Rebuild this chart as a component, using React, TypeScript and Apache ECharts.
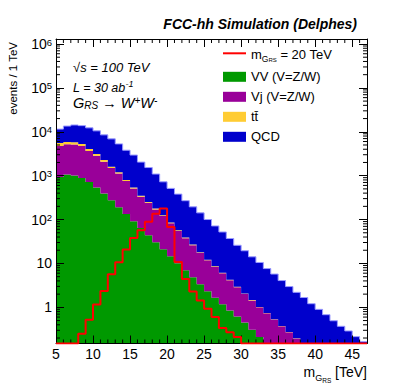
import React, { useEffect, useRef } from 'react';
import * as echarts from 'echarts';

// ---- data ----
const binLow = [5, 6, 7, 8, 9, 10, 11, 12, 13, 14, 15, 16, 17, 18, 19, 20, 21, 22, 23, 24, 25, 26, 27, 28, 29, 30, 31, 32, 33, 34, 35, 36, 37, 38, 39, 40, 41, 42, 43, 44, 45, 46];
const binWidth = 1;

const vv = [929, 1060, 1005, 881, 714, 535, 390, 277, 192, 133, 92, 64, 44, 30.5, 21.1, 14.6, 10.1, 7.0, 4.84, 3.35, 2.32, 1.65, 1.17, 0.85, 0.62, 0.45, 0.31, 0.21, 0.14, 0.10, 0.07, 0.05, 0.035, 0.025, 0.018, 0.012, 0.008, 0.006, 0.004, 0.003, 0.002, 0.0015];
const vj = [3810, 4130, 4150, 3860, 2940, 2320, 1690, 1210, 925, 620, 421, 266, 196, 140, 99, 68, 45, 30.6, 21.2, 14.1, 9.5, 6.7, 4.8, 3.3, 2.24, 1.58, 1.13, 0.79, 0.59, 0.43, 0.30, 0.22, 0.16, 0.118, 0.082, 0.058, 0.042, 0.029, 0.021, 0.017, 0.013, 0.0085];
const ttbar = [810, 660, 620, 530, 400, 260, 195, 107, 73, 41, 27, 17, 11, 7.5, 5, 3.3, 2.2, 1.4, 0.95, 0.62, 0.4, 0.27, 0.18, 0.12, 0.08, 0.05, 0.03, 0.02, 0.012, 0.008, 0.005, 0.003, 0.002, 0.001, 0, 0, 0, 0, 0, 0, 0, 0];
const qcd = [5950, 7650, 8530, 8530, 8250, 7390, 6230, 5300, 4110, 3010, 2410, 1690, 1280, 912, 600, 427, 323, 230, 168, 124, 88, 63, 46, 32.7, 23, 17.4, 12.7, 9.5, 6.9, 5.2, 3.7, 2.7, 2.0, 1.53, 1.11, 0.83, 0.63, 0.46, 0.345, 0.27, 0.2, 0.155];
const signal = [0, 0, 0, 0.25, 0.52, 1.16, 2.36, 5.7, 10.6, 20.8, 38, 57, 89, 135, 179, 68, 10.8, 4.4, 2.3, 1.44, 0.93, 0.60, 0.34, 0.27, 0.21, 0, 0, 0, 0, 0, 0, 0, 0, 0, 0, 0, 0, 0, 0, 0, 0, 0];

const xMin = 5;
const xMax = 47;
const xInterval = 5;
const yMin = 0.15;
const yMax = 1.3e6;

const SIG_NAME = 'signal';
const FONT = '"Liberation Sans", Arial, Helvetica, sans-serif';

const stackDefs = [
  { name: 'VV (V=Z/W)', values: vv, color: '#009900', outline: '' },
  { name: 'Vj (V=Z/W)', values: vj, color: '#990099', outline: '' },
  { name: 'tt\u0304', values: ttbar, color: '#ffcc33', outline: '' },
  { name: 'QCD', values: qcd, color: '#0000cc', outline: '#9a9aff' },
];

const clampV = (v: number) => Math.min(Math.max(v, yMin), yMax);

function makeBandRenderer(outline: string, n: number) {
  return (params: any, api: any) => {
    if (params.dataIndex !== 0) return null;
    const topPts: number[][] = [];
    const basePts: number[][] = [];
    for (let i = 0; i < n; i++) {
      const lo = api.value(0, i);
      const hi = api.value(1, i);
      const base = api.value(2, i);
      const top = api.value(3, i);
      topPts.push(api.coord([lo, clampV(top)]));
      topPts.push(api.coord([hi, clampV(top)]));
      basePts.push(api.coord([lo, clampV(base)]));
      basePts.push(api.coord([hi, clampV(base)]));
    }
    const color = api.visual('color');
    const children: any[] = [
      { type: 'polygon', shape: { points: [...topPts, ...basePts.reverse()] }, style: { fill: color } },
    ];
    if (outline) {
      children.push({ type: 'polyline', shape: { points: topPts }, style: { stroke: outline, lineWidth: 1, fill: null } });
    }
    return { type: 'group', children };
  };
}

function buildOption() {
  let cum = binLow.map(() => 0);
  const stackSeries = stackDefs.map((s) => {
    const data = binLow.map((lo, i) => {
      const base = cum[i];
      const top = base + s.values[i];
      return [lo, lo + binWidth, base, top];
    });
    cum = cum.map((c, i) => c + s.values[i]);
    return {
      type: 'custom',
      name: s.name,
      renderItem: makeBandRenderer(s.outline, data.length),
      data,
      encode: { x: [0, 1], y: [3] },
      itemStyle: { color: s.color },
      z: 2,
      silent: true,
    };
  });

  const sigLine = binLow.map((lo, i) => [lo, clampV(signal[i])]);
  sigLine.push([xMax, clampV(signal[signal.length - 1])]);

  const yMinorTicks: number[][] = [];
  for (let e = -1; e <= 6; e++) {
    for (let m = 2; m <= 9; m++) {
      const v = m * Math.pow(10, e);
      if (v > yMin && v < yMax) yMinorTicks.push([xMin, v]);
    }
  }
  const xMinorTicks = binLow.filter((v) => v > xMin && v % xInterval !== 0).map((v) => [v, yMin]);

  const tickStyle = { stroke: '#000', lineWidth: 1 };
  const minorLen = 4;

  const yTickSeries = {
    type: 'custom',
    name: 'yMinor',
    silent: true,
    z: 11,
    data: yMinorTicks,
    encode: { x: 0, y: 1 },
    renderItem: (params: any, api: any) => {
      const p = api.coord([api.value(0), api.value(1)]);
      const cs = params.coordSys;
      return {
        type: 'group',
        children: [
          { type: 'line', shape: { x1: cs.x, y1: p[1], x2: cs.x + minorLen, y2: p[1] }, style: tickStyle },
          { type: 'line', shape: { x1: cs.x + cs.width, y1: p[1], x2: cs.x + cs.width - minorLen, y2: p[1] }, style: tickStyle },
        ],
      };
    },
  };
  const xTickSeries = {
    type: 'custom',
    name: 'xMinor',
    silent: true,
    z: 11,
    data: xMinorTicks,
    encode: { x: 0, y: 1 },
    renderItem: (params: any, api: any) => {
      const p = api.coord([api.value(0), api.value(1)]);
      const cs = params.coordSys;
      return {
        type: 'group',
        children: [
          { type: 'line', shape: { x1: p[0], y1: cs.y + cs.height, x2: p[0], y2: cs.y + cs.height - minorLen }, style: tickStyle },
          { type: 'line', shape: { x1: p[0], y1: cs.y, x2: p[0], y2: cs.y + minorLen }, style: tickStyle },
        ],
      };
    },
  };

  const axisLine = { show: true, lineStyle: { color: '#000', width: 1 } };
  const majorTick = { show: true, inside: true, length: 8, lineStyle: { color: '#000', width: 1 } };

  const yLabelFormatter = (v: number) => {
    const e = Math.log10(v);
    const r = Math.round(e);
    if (Math.abs(e - r) > 1e-6) return '';
    if (r === 0) return '1';
    if (r === 1) return '10';
    return `{b|10}{s|${r}}`;
  };

  const xAxisBase = { type: 'value', min: xMin, max: xMax, interval: xInterval, splitLine: { show: false }, axisLine, axisTick: majorTick, z: 10 };
  const yAxisBase = { type: 'log', logBase: 10, min: yMin, max: yMax, splitLine: { show: false }, axisLine, axisTick: majorTick, z: 10 };

  const subRich = {
    t: { fontSize: 13, fontFamily: FONT, color: '#000', lineHeight: 10, verticalAlign: 'top' },
    sub: { fontSize: 8.5, fontFamily: FONT, color: '#000', lineHeight: 4, padding: [6, 0, 0, 0], verticalAlign: 'top' },
    ss: { fontSize: 6, fontFamily: FONT, color: '#000', lineHeight: 1, padding: [9, 0, 0, 0], verticalAlign: 'top' },
  };

  return {
    animation: false,
    backgroundColor: '#fff',
    title: {
      text: 'FCC-hh Simulation (Delphes)',
      right: 42,
      top: 17,
      padding: 0,
      textStyle: { fontSize: 14, fontWeight: 'bold', fontStyle: 'italic', fontFamily: FONT, color: '#000' },
    },
    grid: { left: 56, right: 32, top: 39, bottom: 39.5, containLabel: false },
    legend: {
      orient: 'vertical',
      left: 223,
      top: 48.3,
      padding: 0,
      itemWidth: 23,
      itemHeight: 10,
      itemGap: 7,
      selectedMode: false,
      textStyle: { fontSize: 13, fontFamily: FONT, color: '#000', lineHeight: 10, rich: subRich },
      formatter: (name: string) => (name === SIG_NAME ? '{t|m}{sub|G}{ss|RS}{t| = 20 TeV}' : name),
      data: [
        { name: SIG_NAME, icon: 'path://M0,0H23V2H0Z' },
        ...stackDefs.map((s) => ({ name: s.name, icon: 'rect' })),
      ],
    },
    xAxis: [
      {
        ...xAxisBase,
        position: 'bottom',
        axisLabel: { show: true, fontSize: 14, fontFamily: FONT, color: '#000', margin: 3, showMaxLabel: false },
      },
      { ...xAxisBase, position: 'top', axisLabel: { show: false } },
    ],
    yAxis: [
      {
        ...yAxisBase,
        position: 'left',
        axisLabel: {
          show: true,
          fontSize: 14,
          fontFamily: FONT,
          color: '#000',
          margin: 4,
          formatter: yLabelFormatter,
          rich: {
            b: { fontSize: 14, fontFamily: FONT, color: '#000', lineHeight: 14, padding: [4, 0, 4, 0] },
            s: { fontSize: 9.5, fontFamily: FONT, color: '#000', lineHeight: 10, verticalAlign: 'top' },
          },
        },
      },
      { ...yAxisBase, position: 'right', axisLabel: { show: false } },
    ],
    series: [
      ...stackSeries,
      {
        type: 'line',
        name: SIG_NAME,
        data: sigLine,
        step: 'end',
        symbol: 'none',
        lineStyle: { color: '#ff0000', width: 2 },
        itemStyle: { color: '#ff0000' },
        z: 12,
        silent: true,
      },
      yTickSeries,
      xTickSeries,
    ],
    graphic: [
      {
        type: 'text',
        x: 13,
        y: 42,
        rotation: Math.PI / 2,
        style: { text: 'events / 1 TeV', align: 'right', verticalAlign: 'middle', fontSize: 11.5, fontFamily: FONT, fill: '#000' },
      },
      {
        type: 'text',
        x: 367,
        y: 365,
        style: {
          text: '{t|m}{sub|G}{ss|RS}{t| [TeV]}',
          align: 'right',
          verticalAlign: 'top',
          rich: {
            t: { fontSize: 14, fontFamily: FONT, fill: '#000', lineHeight: 14, verticalAlign: 'top' },
            sub: { fontSize: 9, fontFamily: FONT, fill: '#000', lineHeight: 9, padding: [8, 0, 0, 0], verticalAlign: 'top' },
            ss: { fontSize: 6.5, fontFamily: FONT, fill: '#000', lineHeight: 7, padding: [12, 0, 0, 0], verticalAlign: 'top' },
          },
        },
      },
      {
        type: 'text',
        x: 73,
        y: 67,
        style: { text: '\u221As = 100 TeV', verticalAlign: 'middle', fontSize: 13, fontStyle: 'italic', fontFamily: FONT, fill: '#000' },
      },
      {
        type: 'text',
        x: 73,
        y: 86,
        style: {
          text: '{a|L = 30 ab}{s|-1}',
          verticalAlign: 'middle',
          rich: {
            a: { fontSize: 12.5, fontStyle: 'italic', fontFamily: FONT, fill: '#000', lineHeight: 13, padding: [3, 0, 0, 0] },
            s: { fontSize: 9, fontStyle: 'italic', fontFamily: FONT, fill: '#000', lineHeight: 9, verticalAlign: 'top' },
          },
        },
      },
      {
        type: 'text',
        x: 73,
        y: 103,
        style: {
          text: '{a|G}{sub|RS}{a| \u2192 W}{s|+}{a|W}{s|-}',
          verticalAlign: 'middle',
          rich: {
            a: { fontSize: 14.5, fontStyle: 'italic', fontFamily: FONT, fill: '#000', lineHeight: 15, padding: [3, 0, 3, 0] },
            sub: { fontSize: 10, fontStyle: 'italic', fontFamily: FONT, fill: '#000', lineHeight: 10, verticalAlign: 'bottom' },
            s: { fontSize: 10, fontStyle: 'italic', fontFamily: FONT, fill: '#000', lineHeight: 10, verticalAlign: 'top' },
          },
        },
      },
    ],
  };
}

export default function App() {
  const ref = useRef<HTMLDivElement>(null);
  useEffect(() => {
    if (!ref.current) return;
    const chart = echarts.init(ref.current, undefined, { renderer: 'svg' });
    chart.setOption(buildOption() as any);
    return () => chart.dispose();
  }, []);
  return (
    <div
      ref={ref}
      style={{ position: 'fixed', left: 0, top: 0, width: 399, height: 383, background: '#fff' }}
    />
  );
}
